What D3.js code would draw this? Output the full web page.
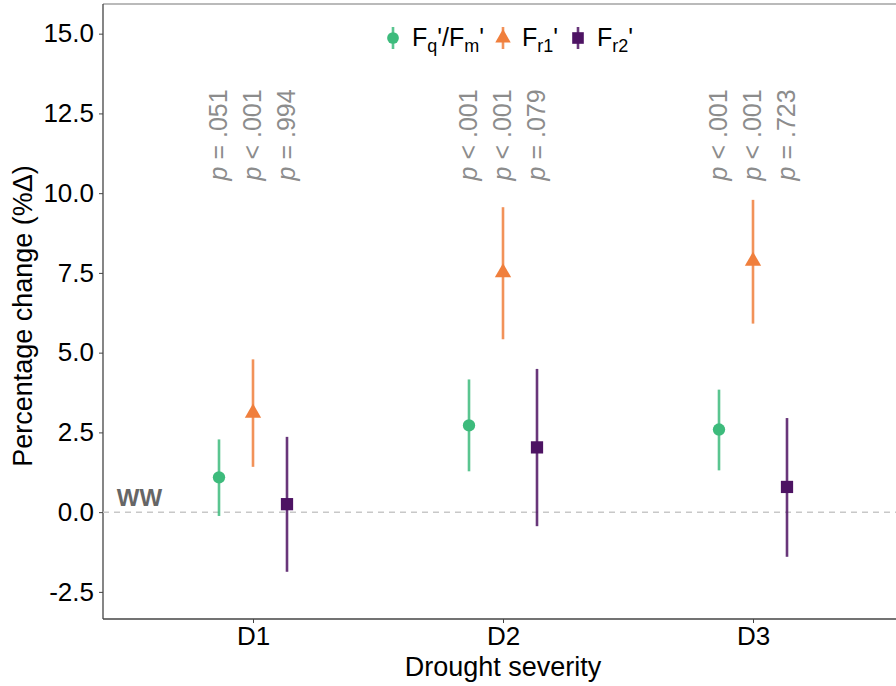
<!DOCTYPE html>
<html lang="en">
<head>
    <meta charset="UTF-8">
    <script src="https://d3js.org/d3.v7.min.js"></script>
    <title>Drought severity</title>
    <style>
        body { margin: 0; background: white; }
        svg { font-family: "Liberation Sans", Arial, sans-serif; }
    </style>
</head>
<body>
    <div class="chart"></div>

    <script>
        const svgWidth = 896;
        const svgHeight = 686;

        // drought levels on the x axis
        const severities = ["D1", "D2", "D3"];
        // series: Fq'/Fm', Fr1', Fr2'
        const seriesKeys = ["fqfm", "fr1", "fr2"];
        const meanValues = {
            fqfm: [1.09, 2.72, 2.59],
            fr1:  [3.11, 7.51, 7.87],
            fr2:  [0.25, 2.03, 0.79]
        };
        const lowValues = {
            fqfm: [-0.12, 1.28, 1.31],
            fr1:  [1.42, 5.42, 5.91],
            fr2:  [-1.87, -0.44, -1.40]
        };
        const highValues = {
            fqfm: [2.28, 4.16, 3.84],
            fr1:  [4.79, 9.56, 9.79],
            fr2:  [2.36, 4.49, 2.95]
        };
        const pLabels = {
            fqfm: ["= .051", "< .001", "< .001"],
            fr1:  ["< .001", "< .001", "< .001"],
            fr2:  ["= .994", "= .079", "= .723"]
        };
        const yTicks = [-2.5, 0, 2.5, 5, 7.5, 10, 12.5, 15];

        const colors = { fqfm: "#3dbb7c", fr1: "#f07f3c", fr2: "#4d1363" };

        const margin = { top: 4, left: 103, bottom: 67 };
        const svg = d3.select(".chart").append("svg")
            .attr("width", svgWidth)
            .attr("height", svgHeight);

        // scales: discrete axis with ggplot-like 0.6 expansion, panel runs past the right edge
        const x = d3.scaleLinear().domain([0.4, 3.6]).range([margin.left, margin.left + 800]);
        const y = d3.scaleLinear().domain([-3.35, 15.93]).range([svgHeight - margin.bottom, margin.top]);
        const dodge = { fqfm: -0.136, fr1: 0, fr2: 0.136 };

        // panel border (top + left + bottom)
        svg.append("line")
            .attr("x1", x(0.4)).attr("x2", svgWidth)
            .attr("y1", y(15.93)).attr("y2", y(15.93))
            .attr("stroke", "#777").attr("stroke-width", 1.2);

        // y axis
        const fmtY = d => d3.format(".1f")(d).replace("\u2212", "-");
        const yAxis = svg.append("g")
            .attr("transform", `translate(${x(0.4)},0)`)
            .call(d3.axisLeft(y).tickValues(yTicks).tickSize(4).tickPadding(5).tickFormat(fmtY));
        yAxis.select(".domain").attr("stroke", "#444").attr("stroke-width", 1.3).attr("d", `M0,${y(-3.35)}V${y(15.93)}`);
        yAxis.selectAll(".tick line").attr("stroke", "#444");
        yAxis.selectAll(".tick text").attr("font-size", 26).attr("fill", "#000")
            .attr("font-family", "Liberation Sans, Arial, sans-serif");

        // x axis
        const xAxis = svg.append("g")
            .attr("transform", `translate(0,${y(-3.35)})`)
            .call(d3.axisBottom(x).tickValues([1, 2, 3]).tickSize(4).tickPadding(4)
                .tickFormat(d => severities[d - 1]));
        xAxis.select(".domain").attr("stroke", "#444").attr("stroke-width", 1.3)
            .attr("d", `M${x(0.4)},0H${svgWidth}`);
        xAxis.selectAll(".tick line").attr("stroke", "#444");
        xAxis.selectAll(".tick text").attr("font-size", 26).attr("fill", "#000")
            .attr("font-family", "Liberation Sans, Arial, sans-serif");

        // axis titles
        svg.append("text")
            .attr("x", x(2)).attr("y", 676)
            .attr("text-anchor", "middle").attr("font-size", 27)
            .text("Drought severity");
        svg.append("text")
            .attr("transform", `translate(32,316) rotate(-90)`)
            .attr("text-anchor", "middle").attr("font-size", 27)
            .text("Percentage change (%\u0394)");

        // zero reference line
        svg.append("line")
            .attr("x1", x(0.4)).attr("x2", svgWidth)
            .attr("y1", y(0)).attr("y2", y(0))
            .attr("stroke", "#c8c8c8").attr("stroke-width", 1.5)
            .attr("stroke-dasharray", "6,5");
        svg.append("text")
            .attr("x", x(0.455)).attr("y", y(0) - 6)
            .attr("font-size", 24).attr("font-weight", "bold").attr("fill", "#666")
            .text("WW");

        // p-value labels
        seriesKeys.forEach(k => {
            severities.forEach((s, i) => {
                const t = svg.append("text")
                    .attr("transform", `translate(${x(i + 1 + dodge[k]) + 8},${y(10.4)}) rotate(-90)`)
                    .attr("font-size", 25).attr("fill", "#8c8c8c");
                t.append("tspan").attr("font-style", "italic").text("p");
                t.append("tspan").text(" " + pLabels[k][i]);
            });
        });

        // marker shapes
        const symbolFor = { fqfm: d3.symbolCircle, fr1: d3.symbolTriangle, fr2: d3.symbolSquare };
        const sizeFor = { fqfm: 120, fr1: 115, fr2: 150 };

        // error bars and points
        seriesKeys.forEach(k => {
            const g = svg.append("g");
            g.selectAll("line")
                .data(severities)
                .join("line")
                .attr("x1", (d, i) => x(i + 1 + dodge[k]))
                .attr("x2", (d, i) => x(i + 1 + dodge[k]))
                .attr("y1", (d, i) => y(lowValues[k][i]))
                .attr("y2", (d, i) => y(highValues[k][i]))
                .attr("stroke", colors[k]).attr("stroke-width", 2.6)
                .attr("stroke-opacity", 0.85);
            g.selectAll("path")
                .data(severities)
                .join("path")
                .attr("d", d3.symbol(symbolFor[k], sizeFor[k]))
                .attr("transform", (d, i) => `translate(${x(i + 1 + dodge[k])},${y(meanValues[k][i])})`)
                .attr("fill", colors[k]);
        });

        // legend
        const legendItems = [
            { key: "fqfm", x: 393, parts: [["F", ""], ["q", "sub"], ["'/F", ""], ["m", "sub"], ["'", ""]] },
            { key: "fr1", x: 503, parts: [["F", ""], ["r1", "sub"], ["'", ""]] },
            { key: "fr2", x: 578, parts: [["F", ""], ["r2", "sub"], ["'", ""]] }
        ];
        const legendY = 38;
        legendItems.forEach(item => {
            const g = svg.append("g").attr("transform", `translate(${item.x},${legendY})`);
            g.append("line")
                .attr("y1", -11).attr("y2", 11)
                .attr("stroke", colors[item.key]).attr("stroke-width", 2.6).attr("stroke-opacity", 0.85);
            g.append("path")
                .attr("d", d3.symbol(symbolFor[item.key], sizeFor[item.key] * 0.9))
                .attr("fill", colors[item.key]);
            const t = g.append("text").attr("x", 19).attr("y", 8).attr("font-size", 25);
            item.parts.forEach(([str, kind]) => {
                if (kind === "sub") {
                    t.append("tspan").attr("font-size", 18).attr("dy", 6).text(str);
                } else {
                    const ts = t.append("tspan").text(str);
                    ts.attr("dy", t.selectAll("tspan").size() > 1 ? -6 : 0);
                }
            });
        });
    </script>
</body>
</html>
